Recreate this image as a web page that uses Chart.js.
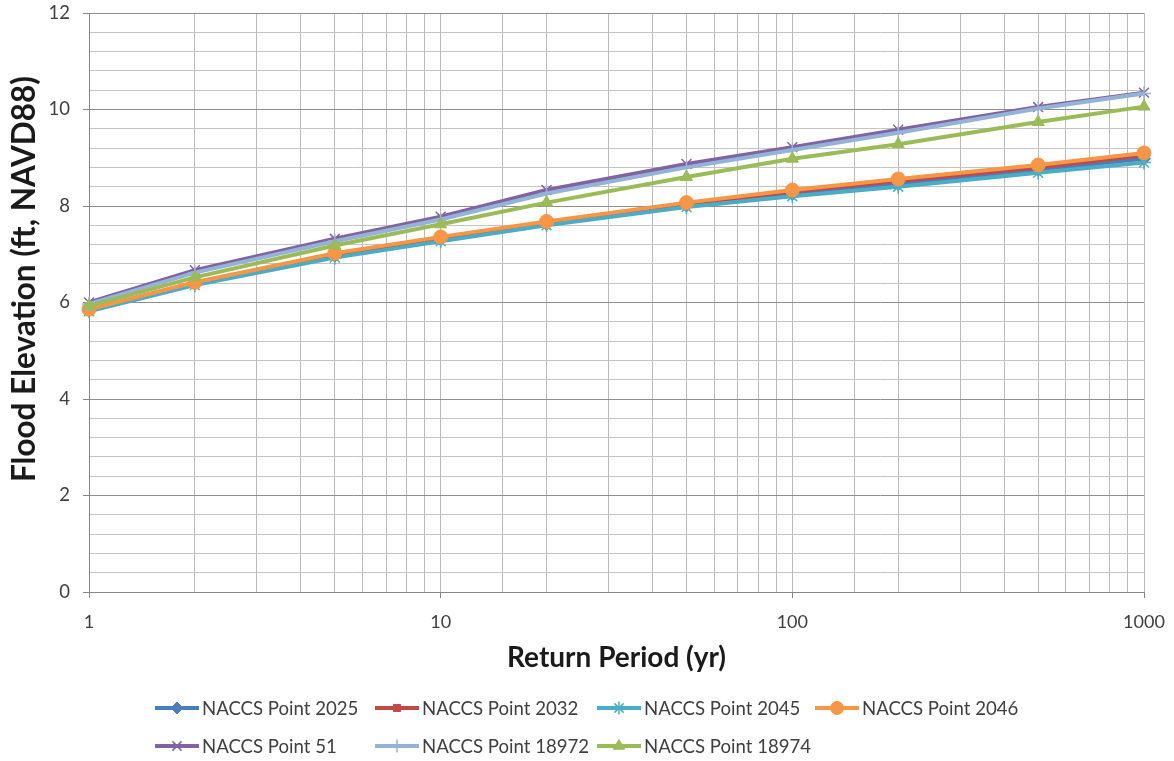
<!DOCTYPE html>
<html><head><meta charset="utf-8">
<script src="https://cdn.jsdelivr.net/npm/chart.js@4.4.0/dist/chart.umd.min.js"></script>
<style>html,body{margin:0;padding:0;background:#fff;}#wrap{width:1174px;height:761px;}</style>
</head><body><div id="wrap"><canvas id="c" width="1174" height="761"></canvas></div>
<script>
// ---- data ----
const returnPeriods = [1, 2, 5, 10, 20, 50, 100, 200, 500, 1000];
const seriesNames = ["NACCS Point 2025", "NACCS Point 2032", "NACCS Point 2045", "NACCS Point 2046",
                     "NACCS Point 51", "NACCS Point 18972", "NACCS Point 18974"];
const p2025  = [5.84, 6.39, 6.97, 7.31, 7.63, 8.01, 8.25, 8.46, 8.75, 8.98];
const p2032  = [5.85, 6.41, 7.00, 7.34, 7.66, 8.04, 8.30, 8.52, 8.80, 9.05];
const p2045  = [5.82, 6.36, 6.93, 7.27, 7.60, 7.98, 8.20, 8.40, 8.69, 8.90];
const p2046  = [5.86, 6.42, 7.02, 7.36, 7.68, 8.07, 8.33, 8.56, 8.85, 9.10];
const p51    = [6.00, 6.67, 7.32, 7.78, 8.33, 8.87, 9.22, 9.58, 10.05, 10.35];
const p18972 = [5.97, 6.62, 7.27, 7.72, 8.26, 8.80, 9.16, 9.52, 10.02, 10.33];
const p18974 = [5.93, 6.52, 7.18, 7.62, 8.07, 8.60, 8.98, 9.28, 9.74, 10.06];
const xTickLabels = [1, 10, 100, 1000];
const yTickLabels = [0, 2, 4, 6, 8, 10, 12];
const yTitle = 'Flood Elevation (ft, NAVD88)';
const xTitle = 'Return Period (yr)';

const seriesValues = [p2025, p2032, p2045, p2046, p51, p18972, p18974];
const seriesColors = ["#4A7EBB", "#BE4B48", "#4BACC6", "#F79646", "#8064A2", "#95B3D7", "#9BBB59"];
const seriesMarkers = ["rectRot", "rect", "star", "circle", "crossRot", "cross", "triangle"];
const markerRadius = [6.5, 5.5, 7, 7, 7, 7, 7];

const datasets = seriesNames.map((name, i) => ({
  label: name,
  data: returnPeriods.map((x, j) => ({x: x, y: seriesValues[i][j]})),
  borderColor: seriesColors[i],
  backgroundColor: seriesColors[i],
  pointBackgroundColor: seriesColors[i],
  pointBorderColor: seriesColors[i],
  pointStyle: seriesMarkers[i],
  pointRadius: markerRadius[i],
  pointBorderWidth: (seriesMarkers[i] === 'star' || seriesMarkers[i].startsWith('cross')) ? 1.5 : 1,
  borderWidth: 4,
  tension: 0,
  fill: false,
  clip: false,
  order: seriesNames.length - 1 - i
}));

const isMajorY = v => yTickLabels.some(t => Math.abs(t - v) < 1e-6);
const isMajorX = v => xTickLabels.some(t => Math.abs(t - v) < 1e-6);

const legendPlugin = {
  id: 'excelLegend',
  afterDraw(chart) {
    const ctx = chart.ctx;
    const colX = [155, 375, 597, 815];
    const rowY = [708, 746];
    const lineLen = 44;
    ctx.save();
    chart.data.datasets.forEach((ds, i) => {
      const x = colX[i % 4], y = rowY[Math.floor(i / 4)];
      ctx.strokeStyle = ds.borderColor;
      ctx.lineWidth = 4;
      ctx.beginPath(); ctx.moveTo(x, y); ctx.lineTo(x + lineLen, y); ctx.stroke();
      ctx.fillStyle = ds.pointBackgroundColor;
      ctx.strokeStyle = ds.pointBorderColor;
      ctx.lineWidth = ds.pointBorderWidth;
      Chart.helpers.drawPoint(ctx, {pointStyle: ds.pointStyle, radius: ds.pointRadius - 0.5, borderWidth: ds.pointBorderWidth, rotation: 0}, x + lineLen / 2, y);
      ctx.fillStyle = '#404040';
      ctx.font = '18.6px Lato';
      ctx.textBaseline = 'middle';
      ctx.textAlign = 'left';
      ctx.fillText(ds.label, x + lineLen + 3, y + 1);
    });
    // y axis title
    ctx.translate(25, 279);
    ctx.rotate(-Math.PI / 2);
    ctx.font = 'bold 31.5px Lato';
    ctx.fillStyle = '#1a1a1a';
    ctx.textAlign = 'center';
    ctx.textBaseline = 'middle';
    ctx.fillText(yTitle, 0, 0);
    ctx.restore();
  }
};

new Chart(document.getElementById('c'), {
  type: 'line',
  data: { datasets: datasets },
  plugins: [legendPlugin],
  options: {
    responsive: false,
    animation: false,
    layout: { padding: { top: 13, right: 30, bottom: 81, left: 0 } },
    plugins: { legend: { display: false }, tooltip: { enabled: false } },
    scales: {
      x: {
        type: 'logarithmic',
        min: 1, max: 1000,
        afterFit(s) { s.height = 88; s.paddingLeft = 0; s.paddingRight = 0; },
        border: { color: '#868686', width: 1 },
        grid: {
          color: '#bababa',
          lineWidth: 1,
          tickLength: 6,
          tickColor: c => (c.tick && isMajorX(c.tick.value)) ? '#868686' : 'rgba(0,0,0,0)'
        },
        ticks: {
          autoSkip: false, maxRotation: 0, padding: 13,
          color: '#404040',
          font: { family: 'Lato', size: 18 },
          callback: v => isMajorX(v) ? String(v) : ''
        },
        title: {
          display: true, text: xTitle, color: '#1a1a1a',
          font: { family: 'Lato', size: 28, weight: 'bold' },
          padding: { top: 0, bottom: 5 }
        }
      },
      y: {
        min: 0, max: 12,
        afterFit(s) { s.width = 89; s.paddingTop = 0; s.paddingBottom = 0; },
        border: { color: '#868686', width: 1 },
        grid: {
          color: c => (c.tick && isMajorY(c.tick.value)) ? '#8e8e8e' : '#c4c4c4',
          lineWidth: 1,
          tickLength: 6,
          tickColor: c => (c.tick && isMajorY(c.tick.value)) ? '#868686' : 'rgba(0,0,0,0)'
        },
        ticks: {
          stepSize: 0.4, autoSkip: false, padding: 13,
          color: '#404040',
          font: { family: 'Lato', size: 18.5 },
          callback: v => isMajorY(v) ? String(Math.round(v)) : ''
        },
        title: { display: false }
      }
    }
  }
});
</script></body></html>
